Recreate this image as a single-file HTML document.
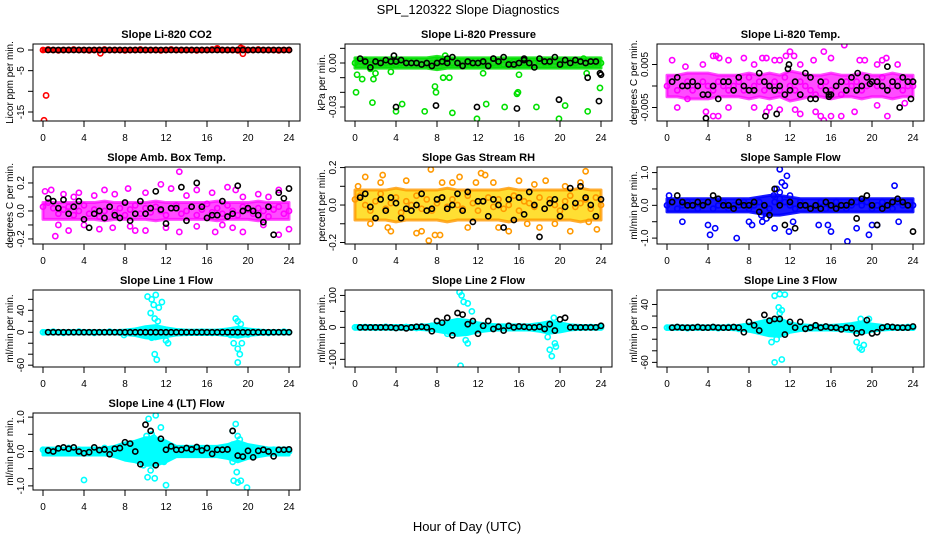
<!DOCTYPE html>
<html><head><meta charset="utf-8"><title>SPL_120322 Slope Diagnostics</title>
<style>
html,body{margin:0;padding:0;background:#fff;}
svg{display:block;font-family:"Liberation Sans",Arial,sans-serif;}
</style></head>
<body>
<svg id="chart" width="936" height="540" viewBox="0 0 936 540" xmlns="http://www.w3.org/2000/svg">
<rect x="0" y="0" width="936" height="540" fill="#fff"/>
<text x="468" y="14" font-size="13" text-anchor="middle">SPL_120322  Slope Diagnostics</text>
<text x="467" y="531" font-size="13" text-anchor="middle">Hour of Day (UTC)</text>
<g id="panels"></g>
</svg>
<script>
// ---- shared x axis ----
const xTicks = [0,4,8,12,16,20,24];
const xTickLabels = ["0","4","8","12","16","20","24"];

// ---- panel titles / labels ----
const titles = ["Slope Li-820 CO2","Slope Li-820 Pressure","Slope Li-820 Temp.","Slope Amb. Box Temp.","Slope Gas Stream RH","Slope Sample Flow","Slope Line 1 Flow","Slope Line 2 Flow","Slope Line 3 Flow","Slope Line 4 (LT) Flow"];
const yTitles = ["Licor ppm per min.","kPa per min.","degrees C per min.","degrees C per min.","percent per min.","ml/min per min.","ml/min per min.","ml/min per min.","ml/min per min.","ml/min per min."];
const yMins = [-17.18,-0.03954,-0.00814,-0.236,-0.208,-1.18,-63.3,-124,-68,-1.12];
const yMaxs = [1.45,0.01295,0.00977,0.314,0.203,1.17,77,117,65,1.12];
const yTicks = [[0,-5,-10,-15],[0.01,0,-0.01,-0.02,-0.03],[0.005,0,-0.005],[0.2,0.1,0,-0.1,-0.2],[0.2,0.1,0,-0.1,-0.2],[1,0.5,0,-0.5,-1],[60,40,20,0,-20,-40,-60],[100,50,0,-50,-100],[40,20,0,-20,-40,-60],[1,0.5,0,-0.5,-1]];
const yTickLabels = [["0","-5","","-15"],["","0.00","","","-0.03"],["0.005","","-0.005"],["0.2","","0.0","","-0.2"],["0.2","","0.0","","-0.2"],["1.0","","0.0","","-1.0"],["","40","","0","","","-60"],["100","","0","","-100"],["40","","0","","","-60"],["1.0","","0.0","","-1.0"]];
const units = [1,0.001,0.001,0.01,0.01,0.1,1,1,1,0.1];
const colors = ["#ff0000","#00e000","#ff00ff","#ff00ff","#ff9900","#0000ff","#00ffff","#00ffff","#00ffff","#00ffff"];
const bandColors = ["#ff0000","#00cc00","#ff00ff","#ff00ff","#ffd700","#0000ff","#00ffff","#00ffff","#00ffff","#00ffff"];
const bandOpacity = [1,0.85,0.7,0.7,0.8,0.9,1,1,1,1];

// ---- band half-widths (hourly, 0..24) in panel units ----
const band0 = [0.3,0.3,0.3,0.3,0.3,0.3,0.3,0.3,0.3,0.3,0.3,0.3,0.3,0.3,0.3,0.3,0.3,0.3,0.3,0.3,0.3,0.3,0.3,0.3,0.3];
const band1 = [3.5,3.5,3.5,3.5,3.5,3.5,3.5,3.5,4.5,3.5,3.5,3.5,3.5,3.5,3.5,3.5,3.5,3.5,3.5,3.5,3.5,3.5,3.5,3.5,3.5];
const band2 = [2.5,2.5,3,3,3,2.5,2.5,2.5,3,2.5,3,2.5,3.5,3,2.5,2.5,3,2.5,2.5,3,2.5,2.5,3,2.5,2.5];
const band3 = [6,6,6,6,6,6,7,6,6,6,6,7,6,6,6,6,6,7,6,6,6,7,6,6,6];
const band4 = [8,8,8,8,9,8,8,8,8,9,8,8,8,8,8,9,8,8,8,8,8,8,9,8,8];
const band5 = [2,2,2,2,2,2,2,2,2,2.5,3,3,2.5,2,2,2,2,2,2,2,2,2,2,2,2];
const band6 = [3,3,3,3,3,3,3,3,4,6,10,12,8,5,4,4,4,4,6,9,6,4,3,3,3];
const band7 = [6,6,6,6,6,6,6,8,12,18,25,22,14,10,8,8,8,8,12,18,14,8,6,6,6];
const band8 = [3,3,3,3,3,3,3,4,6,10,14,15,8,5,4,4,4,5,7,10,6,4,3,3,3];
const band9 = [1,1,1,1,1,1,1,1.5,2.5,3,4,4,3,1.5,1.5,1.5,1.5,1.5,2,3,2,1.5,1,1,1];

// ---- coloured series, half-hourly 0..24 ----
const col0 = [0,0.1,0,-0.1,0,0,0.1,0,0,-0.1,0,0,0.1,0,0,0,-0.1,0,0,0.1,0,0,0,-0.1,0,0.1,0,0,0,0,-0.1,0,0,0.1,0.2,0,0,0,-0.1,0.3,0,0,0.1,0,0,0,-0.1,0,0];
const col1 = [0,1,0,-1,0,1,0,0,-1,0,1,0,0,-1,0,0,1,0,1,0,0,1,0,-1,0,0,1,0,0,-1,0,1,0,0,-1,0,1,0,0,1,0,-1,0,0,1,0,-1,0,0];
const col2 = [0,1,-1,0,1,-1,0,1,0,-1,1,0,-1,0,1,-1,2,0,1,-1,0,1,-1,2,0,-1,1,0,-1,-2,0,1,-1,0,-2,1,0,1,-1,0,1,0,2,-1,0,1,-1,0,0];
const col3 = [3,6,2,-2,1,3,-3,0,4,-2,1,-4,0,3,-1,2,-3,1,4,-2,2,-1,3,0,-3,2,4,-2,0,3,-3,1,5,-1,2,-2,4,0,-3,3,1,-2,2,0,-4,1,3,-2,0];
const col4 = [3,5,0,-3,2,6,-2,1,4,-4,2,0,5,-2,3,-3,1,4,-1,3,0,-2,5,1,-3,2,4,-1,3,-2,0,5,-3,2,1,-1,4,-2,3,0,-3,2,5,-1,1,3,-2,4,0];
const col5 = [0,1,-1,0,1,0,-1,0,1,-1,0,1,-1,0,0,1,-1,0,1,0,-1,1,2,1,0,-1,1,0,-1,0,1,-1,0,1,0,-1,0,1,0,1,-1,0,1,0,-1,1,0,0,0];
const col6 = [0,0,1,0,-1,0,0,1,0,0,-1,0,0,1,0,0,-1,0,2,0,-3,2,-1,3,1,-2,0,1,-1,0,0,1,0,-1,0,0,2,-3,-1,3,-4,0,1,0,-1,0,0,1,0];
const col7 = [0,0,1,0,-1,0,2,0,-2,0,1,0,-2,3,-2,5,-3,2,4,-5,3,-6,5,2,-3,3,-2,1,0,-2,2,1,-1,-2,0,3,2,-5,-4,3,0,-2,1,0,-1,0,1,0,0];
const col8 = [0,0,1,0,-1,0,1,0,0,1,-1,0,1,0,-2,2,-3,4,-2,5,-4,3,-5,2,-1,2,-1,1,0,2,-1,1,0,-1,2,0,-2,-4,-6,2,-2,1,0,0,1,0,0,1,0];
const col9 = [0.5,0.5,0,0.5,0,1,0,0.5,-0.5,0,0.5,0,1,0,0.5,-0.5,0,1,-1,0.5,1,-1,2,-1,0,0.5,0,0.5,-0.5,0,0.5,0,0.5,-0.5,0,1,-1,2,-2,0.5,0,0.5,0,0.5,0,0.5,0,0.5,0];

// ---- coloured outliers [hour, value] ----
const out0 = [[0.1,-17],[0.3,-11],[5.6,-0.8],[19.5,-0.9],[17,0.4],[19.3,0.5]];
const out1 = [[0.1,-20],[0.2,-8],[0.7,-11],[1,2],[1.5,-4],[1.8,-11],[2,-7],[1.7,-27],[4,-33],[4.6,-28],[3.5,-6],[6.8,-33],[7.8,-16],[7.9,-20],[8.8,5],[8.6,-10],[9.2,-10],[9.5,-34],[11.9,-38],[12.5,-7],[12.8,-28],[14.6,-30],[16,-8],[15.9,-20],[15.8,-21],[17.7,-30],[19.9,-38],[20.5,-29],[22.7,-33],[22.6,-7],[23.9,-17],[22.3,3]];
const out2 = [[0.5,6],[1,-5],[1.8,4.5],[2,-3],[3.5,5],[4.5,7],[4.8,7],[5.1,6.5],[6,6],[7.5,6.5],[8.5,5],[9.3,6.5],[9.7,6.5],[10.5,6],[11,6],[11.6,7],[12,8],[12.4,7],[13,5],[14.3,6],[15.3,8],[16,6.5],[17.3,9.5],[18.8,6],[19.3,6],[20.5,5],[21,6],[21.4,6.5],[22.5,5],[3.8,-6],[4.5,-7],[5,-7],[6,-5],[8.5,-5],[9.7,-6],[10,-5],[11,-5.5],[12.5,-5.5],[13,-6.5],[14.5,-6],[15,-7],[15.3,-8],[16,-7],[17,-7],[18.3,-6],[20.5,-4.5],[21.5,-7],[23.2,-4]];
const out3 = [[0.2,14],[0.8,15],[1.2,-18],[1.5,-10],[2,12],[3,10],[3.5,13],[5,11],[6,15],[7,12],[8.3,16],[9,-14],[10,13],[11.5,19],[12.5,16],[13.3,28],[14,11],[15,15],[16.5,13],[18,17],[18.8,15],[19.5,10],[21,12],[22,10],[23,15],[2.5,-14],[4,-10],[5.5,-13],[6.8,-12],[8.5,-11],[10,-14],[12,-12],[13.3,-15],[15,-11],[16.8,-15],[17.5,-10],[18.5,-12],[19.5,-15],[21.5,-10],[23,-17],[24,-13]];
const out4 = [[0.3,10],[1,15],[1.5,-10],[2.5,12],[2.7,16],[3.2,-12],[3.5,-14],[5,13],[6,-15],[6.5,-14],[7.4,19],[7.8,-16],[8.5,12],[9.5,12],[10.2,15],[11,-12],[11.8,12],[12.3,17],[12.7,16],[13.5,12],[14,-12],[15,-14],[16,13],[16.8,-10],[17.5,11],[18,-12],[18.6,13],[19.5,-10],[20.5,10],[21,-14],[22,12],[22.5,18],[22.8,-9],[23.6,-13],[7.2,-19],[8.3,-16]];
const out5 = [[0.2,3],[1.5,-5],[4,-6],[4.2,-9],[4.7,-7],[6.8,-10],[8,-5],[8.3,-6],[9.3,-5],[9.7,-4],[10.5,-7],[10.7,5],[11,11],[11.2,7],[11.5,6],[11.7,9],[11,4],[11.9,-8],[12.3,-5],[14.8,-6],[15.7,-6],[16,-8],[17.6,-11],[18.5,-7],[19.7,-9],[20,-6],[20.5,-6],[22.2,6],[22.6,-5],[9.2,-3],[10.4,3],[12,3]];
const out6 = [[10.2,65],[10.6,60],[11,68],[10.8,50],[11.3,45],[11.6,55],[10.5,35],[10.9,25],[11.2,20],[10.9,-40],[11.1,-50],[10.6,-10],[12.2,-20],[12,-15],[18.8,25],[19,20],[19.3,15],[18.6,-20],[19,-30],[19.2,-40],[19,-55],[19.4,-20],[18.3,-5],[7.9,-5]];
const out7 = [[10.2,110],[10.4,100],[10.6,80],[11,75],[11.4,50],[10.8,-40],[11,-50],[10.3,-120],[19,-70],[19.2,-90],[19.5,-50],[19.6,-60],[18.8,-30],[19.4,30],[9,-20]];
const out8 = [[10.5,55],[11,58],[11.5,57],[10.9,35],[11.2,30],[11,25],[10.2,-25],[10.7,-20],[10.5,-60],[11.2,-55],[18.5,-25],[18.8,-35],[19,-38],[19.2,-30],[18.9,15],[19.7,15]];
const out9 = [[10.3,9.5],[10.6,5],[11,10.5],[11.5,7],[10.1,4.5],[10.8,4],[10.5,-5.5],[10.2,-7.5],[10.9,-7.8],[12,-9.8],[9.8,-4],[4,-8.3],[18.5,6],[18.8,8],[19,4.5],[19.2,3.5],[18.6,-8.5],[19,-9],[19.3,-8.5],[18.9,-6],[19.9,-10.5],[18.5,-3],[11.8,-3]];

// ---- black series, half-hourly 0.5..24 ----
const blk0 = [0,0,0,0,0,0,0,0,0,0,0,0,0,0,0,0,0,0,0,0,0,0,0,0,0,0,0,0,0,0,0,0,0,0,0,0,0,0,0,0,0,0,0,0,0,0,0,0];
const blk1 = [3,1,-3,1,0,2,1,1,2,0,0,0,-1,0,-2,0,1,0,4,0,-2,1,0,0,1,-2,3,1,4,-1,-1,0,2,0,-3,3,1,1,4,-1,2,0,2,1,0,1,1,-8];
const blk2 = [1,2,0,0,1,0,-2,-2,0,-3,1,1,-1,2,0,-1,-1,3,1,0,-1,0,-2,-1,1,-2,3,2,-3,1,-1,-2,0,1,-1,2,-1,0,2,1,1,0,-1,1,0,2,1,1];
const blk3 = [9,7,2,8,-2,3,7,-6,-12,-2,0,-5,3,-3,-5,6,-7,-2,7,-2,2,14,1,-9,2,2,17,-7,3,20,3,-5,-3,-3,7,-4,-2,18,0,2,0,-3,-8,3,-17,13,9,16];
const blk4 = [4,6,-1,-7,3,-3,4,1,-7,-2,-3,0,6,-3,-2,3,4,-2,0,6,-3,7,-9,2,2,-6,3,0,-12,3,-8,4,-5,7,0,-17,-2,1,3,-6,-1,9,1,10,4,0,-6,3];
const blk5 = [1,3,1,0,0,1,0,1,3,2,0,0,-1,1,0,0,1,-2,0,-3,5,0,-6,1,-7,0,0,-1,0,-1,1,0,-1,0,0,1,-4,2,3,0,-6,-1,0,1,2,1,0,-8];
const blk6 = [0,0,0,0,0,0,0,0,0,0,0,0,0,0,0,0,0,0,0,0,0,0,0,0,0,0,0,0,0,0,0,0,0,0,0,0,0,0,0,0,0,0,0,0,0,0,0,0];
const blk7 = [0,0,0,0,0,0,0,-2,0,-3,0,2,2,0,-12,20,15,30,-25,45,40,10,20,-20,5,20,-5,2,-10,5,0,3,2,0,0,2,-5,10,-10,25,30,0,0,0,0,0,0,5];
const blk8 = [0,1,0,0,0,1,0,0,1,0,0,0,1,0,-8,10,4,-5,22,12,15,15,-12,10,0,10,-2,0,4,0,2,0,0,-3,0,-1,-10,-8,13,-10,-8,0,2,1,0,0,0,2];
const blk9 = [0.3,0,0.9,1.2,0.8,1.2,0,-0.5,-0.2,1.2,0.4,0.6,-0.8,0.8,1,2.7,2.3,0,-3.7,7.8,6,-4,3.7,0.5,1.5,0.5,0.5,1,0.6,1.3,0.3,1,-0.7,0.5,0.5,0.6,6,-1.2,-1.5,0.2,-1.7,0.2,0.5,0,-1.4,0.5,0.5,0.6];

// ---- black outliers [hour, value] ----
const bout0 = [];
const bout1 = [[3.8,5],[4,-30],[7.9,-29],[11.9,-30],[15.8,-31],[19.9,-25],[23.8,-26],[22.7,-10],[23.9,-7],[9,3],[16.5,3],[13.5,3]];
const bout2 = [[3.8,-7.5],[9.6,-7],[10.7,-6.5],[11.9,5],[11.8,4],[21.5,4.5],[22.7,-5],[23.8,-3],[14,-3],[15.8,-2.5],[15.8,-2],[18.6,3],[19.8,0.5]];
const bout3 = [];
const bout4 = [];
const bout5 = [];
const bout6 = [];
const bout7 = [];
const bout8 = [];
const bout9 = [];

const bands = [band0,band1,band2,band3,band4,band5,band6,band7,band8,band9];
const cols = [col0,col1,col2,col3,col4,col5,col6,col7,col8,col9];
const outs = [out0,out1,out2,out3,out4,out5,out6,out7,out8,out9];
const blks = [blk0,blk1,blk2,blk3,blk4,blk5,blk6,blk7,blk8,blk9];
const bouts = [bout0,bout1,bout2,bout3,bout4,bout5,bout6,bout7,bout8,bout9];

const NS = "http://www.w3.org/2000/svg";
const root = document.getElementById('panels');
function mk(tag, attrs, parent){
  const e = document.createElementNS(NS, tag);
  for (const k in attrs) e.setAttribute(k, attrs[k]);
  parent.appendChild(e);
  return e;
}

for (let p = 0; p < 10; p++) {
  const c = p % 3, r = Math.floor(p / 3);
  const L = 33 + 312 * c, T = 44 + 123 * r, W = 267, H = 77;
  const xs = h => L + 10 + h * 246 / 24;
  const ys = v => T + (yMaxs[p] - v) / (yMaxs[p] - yMins[p]) * H;
  const u = units[p];
  const g = mk('g', {}, root);
  
  

  const t = mk('text', {x: L + W / 2, y: T - 6, 'font-size': 11, 'font-weight': 'bold', 'text-anchor': 'middle'}, g);
  t.textContent = titles[p];
  
  

  const yt = mk('text', {x: 0, y: 0, 'font-size': 10, 'text-anchor': 'middle', transform: 'translate(' + (L - 20) + ',' + (T + H / 2) + ') rotate(-90)'}, g);
  yt.textContent = yTitles[p];
  
  

  const clip = mk('clipPath', {id: 'clip' + p}, g);
  mk('rect', {x: L, y: T, width: W, height: H}, clip);
  const plot = mk('g', {'clip-path': 'url(#clip' + p + ')'}, g);
  
  

  // band
  const b = bands[p];
  let pts = [];
  for (let h = 0; h < b.length; h++) pts.push(xs(h) + ',' + ys(b[h] * u));
  for (let h = b.length - 1; h >= 0; h--) pts.push(xs(h) + ',' + ys(-b[h] * u));
  const poly = mk('polygon', {points: pts.join(' '), fill: bandColors[p], 'fill-opacity': bandOpacity[p], stroke: colors[p], 'stroke-opacity': bandOpacity[p], 'stroke-width': 3, 'stroke-linejoin': 'round'}, plot);
  
  

  const cs = cols[p];
  for (let i = 0; i < cs.length; i++) {
    const ci = mk('circle', {cx: xs(i * 0.5), cy: ys(cs[i] * u), r: 2.6, fill: 'none', stroke: colors[p], 'stroke-width': 1.6}, plot);
    
    
  }
  const os = outs[p];
  for (let i = 0; i < os.length; i++) {
    const ci = mk('circle', {cx: xs(os[i][0]), cy: ys(os[i][1] * u), r: 2.6, fill: 'none', stroke: colors[p], 'stroke-width': 1.6}, plot);
    
    
  }
  const bk = blks[p];
  for (let i = 0; i < bk.length; i++) {
    const ci = mk('circle', {cx: xs(0.5 + i * 0.5), cy: ys(bk[i] * u), r: 2.6, fill: 'none', stroke: '#000', 'stroke-width': 1.6}, plot);
    
    
  }
  const bo = bouts[p];
  for (let i = 0; i < bo.length; i++) {
    const ci = mk('circle', {cx: xs(bo[i][0]), cy: ys(bo[i][1] * u), r: 2.6, fill: 'none', stroke: '#000', 'stroke-width': 1.6}, plot);
    
    
  }

  const box = mk('rect', {x: L, y: T, width: W, height: H, fill: 'none', stroke: '#000', 'stroke-width': 1}, g);
  
  

  // x axis
  const xa = mk('g', {}, g);
  
  
  mk('line', {x1: xs(0), x2: xs(24), y1: T + H, y2: T + H, stroke: '#000'}, xa);
  for (let i = 0; i < xTicks.length; i++) {
    const x = xs(xTicks[i]);
    mk('line', {x1: x, x2: x, y1: T + H, y2: T + H + 6, stroke: '#000'}, xa);
    const tl = mk('text', {x: x, y: T + H + 20, 'font-size': 10, 'text-anchor': 'middle'}, xa);
    tl.textContent = xTickLabels[i];
    
    
  }
  // y axis
  const ya = mk('g', {}, g);
  
  
  const tk = yTicks[p];
  for (let i = 0; i < tk.length; i++) {
    const y = ys(tk[i]);
    if (y < T - 0.5 || y > T + H + 0.5) continue;
    mk('line', {x1: L - 5, x2: L, y1: y, y2: y, stroke: '#000'}, ya);
    if (yTickLabels[p][i]) {
      const tl = mk('text', {x: 0, y: 0, 'font-size': 10, 'text-anchor': 'middle', transform: 'translate(' + (L - 9) + ',' + y + ') rotate(-90)'}, ya);
      tl.textContent = yTickLabels[p][i];
      
      
    }
  }
}
</script>
</body></html>
